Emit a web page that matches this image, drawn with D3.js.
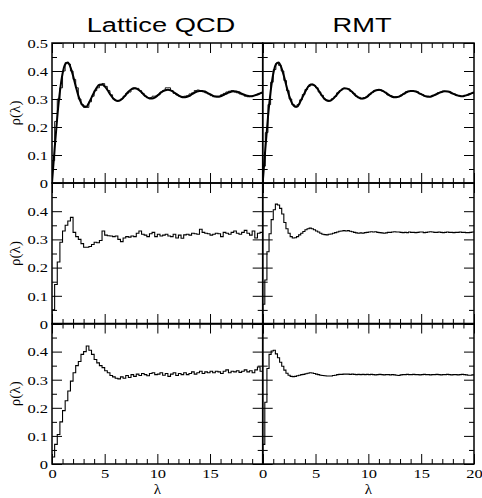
<!DOCTYPE html>
<html><head><meta charset="utf-8">
<script src="https://cdn.jsdelivr.net/npm/d3@7"></script>
<style>body{margin:0;background:#fff} svg{display:block}</style>
</head><body><svg id="c" width="482" height="498"></svg>
<script>
const columnTitles = ["Lattice QCD", "RMT"];
const yAxisLabel = "ρ(λ)";
const xAxisLabel = "λ";
const xMajorTicks = [0, 5, 10, 15, 20];
const xMinorTicks = [1,2,3,4,6,7,8,9,11,12,13,14,16,17,18,19];
const yMajorTicks = [0, 0.1, 0.2, 0.3, 0.4, 0.5];
const yMinorTicks = [0.05, 0.15, 0.25, 0.35, 0.45];

// theory curve (top row), sampled every 0.25 in lambda
const theoryStep = 0.25;
const theoryRho = [0, 0.123, 0.235, 0.326, 0.390, 0.424, 0.430, 0.414, 0.383, 0.346,
  0.312, 0.287, 0.274, 0.272, 0.286, 0.305, 0.324, 0.341, 0.351, 0.352,
  0.345, 0.333, 0.318, 0.305, 0.296, 0.293, 0.296, 0.304, 0.315, 0.326,
  0.334, 0.338, 0.337, 0.332, 0.324, 0.314, 0.307, 0.302, 0.302, 0.305,
  0.312, 0.320, 0.327, 0.331, 0.333, 0.331, 0.326, 0.319, 0.313, 0.308,
  0.306, 0.307, 0.310, 0.316, 0.322, 0.327, 0.329, 0.329, 0.327, 0.322,
  0.317, 0.312, 0.309, 0.308, 0.310, 0.314, 0.318, 0.323, 0.326, 0.328,
  0.327, 0.324, 0.319, 0.315, 0.312, 0.310, 0.310, 0.313, 0.316, 0.320, 0.324];

// histograms, bin width 0.25
const qcdBin = 0.25;
const qcdRho1 = [0.08, 0.22, 0.30, 0.34, 0.40, 0.43, 0.425, 0.40, 0.37, 0.34,
  0.30, 0.28, 0.27, 0.27, 0.29, 0.31, 0.33, 0.34, 0.35, 0.355,
  0.345, 0.33, 0.315, 0.30, 0.295, 0.295, 0.30, 0.31, 0.32, 0.325,
  0.335, 0.34, 0.338, 0.33, 0.32, 0.31, 0.305, 0.305, 0.31, 0.31,
  0.315, 0.325, 0.33, 0.34, 0.34, 0.33, 0.32, 0.315, 0.31, 0.308,
  0.31, 0.312, 0.318, 0.322, 0.33, 0.332, 0.33, 0.326, 0.322, 0.318,
  0.312, 0.308, 0.31, 0.31, 0.315, 0.32, 0.325, 0.328, 0.33, 0.325,
  0.322, 0.318, 0.315, 0.31, 0.308, 0.31, 0.312, 0.315, 0.318, 0.322];
const rmtRho1 = [0.06, 0.18, 0.28, 0.36, 0.405, 0.428, 0.42, 0.40, 0.366, 0.33,
  0.30, 0.28, 0.272, 0.28, 0.297, 0.316, 0.334, 0.345, 0.353, 0.348,
  0.34, 0.325, 0.313, 0.30, 0.296, 0.294, 0.301, 0.309, 0.322, 0.33,
  0.337, 0.337, 0.336, 0.327, 0.32, 0.31, 0.306, 0.301, 0.305, 0.308,
  0.317, 0.323, 0.33, 0.331, 0.333, 0.328, 0.324, 0.315, 0.312, 0.306,
  0.308, 0.308, 0.314, 0.318, 0.326, 0.327, 0.33, 0.327, 0.326, 0.319,
  0.316, 0.31, 0.31, 0.308, 0.313, 0.315, 0.322, 0.324, 0.328, 0.327,
  0.327, 0.321, 0.318, 0.313, 0.312, 0.309, 0.313, 0.314, 0.319, 0.321];
const qcdRho2 = [0.05, 0.14, 0.22, 0.29, 0.33, 0.35, 0.365, 0.378, 0.325, 0.31,
  0.30, 0.285, 0.272, 0.272, 0.275, 0.282, 0.29, 0.288, 0.296, 0.33,
  0.315, 0.313, 0.312, 0.31, 0.312, 0.30, 0.292, 0.305, 0.31, 0.308,
  0.312, 0.31, 0.322, 0.33, 0.318, 0.315, 0.31, 0.32, 0.325, 0.31,
  0.318, 0.312, 0.315, 0.318, 0.312, 0.31, 0.318, 0.305, 0.315, 0.304,
  0.316, 0.318, 0.315, 0.322, 0.32, 0.318, 0.336, 0.325, 0.322, 0.32,
  0.315, 0.318, 0.322, 0.32, 0.31, 0.325, 0.322, 0.318, 0.325, 0.33,
  0.322, 0.318, 0.325, 0.332, 0.322, 0.315, 0.33, 0.305, 0.322, 0.325];
const qcdRho3 = [0.025, 0.07, 0.105, 0.15, 0.19, 0.225, 0.26, 0.295, 0.325, 0.35,
  0.365, 0.39, 0.40, 0.42, 0.405, 0.39, 0.372, 0.36, 0.35, 0.343,
  0.332, 0.325, 0.315, 0.31, 0.305, 0.303, 0.31, 0.305, 0.315, 0.308,
  0.318, 0.312, 0.32, 0.315, 0.322, 0.318, 0.314, 0.322, 0.325, 0.318,
  0.32, 0.325, 0.316, 0.322, 0.312, 0.32, 0.325, 0.315, 0.322, 0.318,
  0.325, 0.318, 0.322, 0.328, 0.32, 0.325, 0.33, 0.322, 0.328, 0.325,
  0.33, 0.325, 0.33, 0.328, 0.322, 0.33, 0.335, 0.325, 0.33, 0.328,
  0.332, 0.326, 0.33, 0.335, 0.328, 0.332, 0.325, 0.335, 0.345, 0.33];

// RMT histograms, bin width 0.2
const rmtBin = 0.2;
const rmtRho2 = [0.07, 0.156, 0.256, 0.32, 0.37, 0.405, 0.425, 0.422, 0.41, 0.39,
  0.36, 0.338, 0.322, 0.31, 0.305, 0.306, 0.31, 0.316, 0.322, 0.328,
  0.334, 0.338, 0.34, 0.338, 0.334, 0.33, 0.326, 0.322, 0.318, 0.317,
  0.316, 0.318, 0.319, 0.322, 0.324, 0.326, 0.329, 0.33, 0.331, 0.33,
  0.331, 0.329, 0.327, 0.325, 0.323, 0.322, 0.323, 0.322, 0.324, 0.325,
  0.326, 0.327, 0.326, 0.327, 0.325, 0.324, 0.323, 0.322, 0.323, 0.325,
  0.325, 0.326, 0.327, 0.326, 0.326, 0.325, 0.324, 0.325, 0.324, 0.326,
  0.325, 0.325, 0.324, 0.325, 0.326, 0.326, 0.324, 0.325, 0.326, 0.327,
  0.326, 0.325, 0.325, 0.326, 0.325, 0.324, 0.325, 0.326, 0.325, 0.325,
  0.324, 0.325, 0.325, 0.326, 0.325, 0.325, 0.324, 0.324, 0.325, 0.326];
const rmtRho3 = [0.07, 0.22, 0.34, 0.39, 0.402, 0.405, 0.392, 0.378, 0.362, 0.348,
  0.334, 0.323, 0.316, 0.312, 0.311, 0.312, 0.314, 0.316, 0.318, 0.319,
  0.321, 0.323, 0.325, 0.324, 0.322, 0.32, 0.318, 0.316, 0.315, 0.314,
  0.313, 0.313, 0.313, 0.315, 0.316, 0.318, 0.319, 0.319, 0.32, 0.32,
  0.32, 0.319, 0.32, 0.319, 0.318, 0.319, 0.318, 0.319, 0.318, 0.319,
  0.318, 0.319, 0.318, 0.317, 0.318, 0.319, 0.318, 0.317, 0.318, 0.318,
  0.317, 0.318, 0.317, 0.316, 0.315, 0.317, 0.318, 0.318, 0.319, 0.318,
  0.318, 0.319, 0.318, 0.318, 0.317, 0.318, 0.319, 0.318, 0.318, 0.317,
  0.318, 0.318, 0.319, 0.318, 0.317, 0.318, 0.318, 0.319, 0.318, 0.317,
  0.318, 0.318, 0.317, 0.318, 0.319, 0.318, 0.317, 0.316, 0.316, 0.317];

const panels = [
  {row: 0, col: 0, hist: qcdRho1, bin: qcdBin, theory: true},
  {row: 0, col: 1, hist: rmtRho1, bin: qcdBin, theory: true},
  {row: 1, col: 0, hist: qcdRho2, bin: qcdBin},
  {row: 1, col: 1, hist: rmtRho2, bin: rmtBin},
  {row: 2, col: 0, hist: qcdRho3, bin: qcdBin},
  {row: 2, col: 1, hist: rmtRho3, bin: rmtBin}
];

const colX = [[52, 262.7], [262.7, 474]];
const rowY = [[183, 43], [324, 183], [464, 323.5]];
const serif = "Liberation Serif";
const sans = "Liberation Sans";
const sx = 1.22;

const svg = d3.select("#c");

panels.forEach((p, idx) => {
  const x = d3.scaleLinear().domain([0, 20]).range(colX[p.col]);
  const y = d3.scaleLinear().domain([0, 0.5]).range(rowY[p.row]);
  const g = svg.append("g");
  const cid = "clip" + idx;
  svg.append("clipPath").attr("id", cid).append("rect")
    .attr("x", x(0)).attr("y", y(0.5)).attr("width", x(20) - x(0)).attr("height", y(0) - y(0.5));

  // histogram (step line)
  const stepLine = d3.line().x(d => x(d.l)).y(d => y(d.r)).curve(d3.curveStepBefore);
  const hp = p.hist.map((v, i) => ({l: (i + 1) * p.bin, r: v}));
  hp.unshift({l: 0, r: 0});
  g.append("path").attr("clip-path", `url(#${cid})`)
    .attr("d", stepLine(hp))
    .attr("fill", "none").attr("stroke", "#000").attr("stroke-width", p.theory ? 0.9 : 1.1);

  if (p.theory) {
    const tl = d3.line().x((d, i) => x(i * theoryStep)).y(d => y(d)).curve(d3.curveMonotoneX);
    g.append("path").attr("clip-path", `url(#${cid})`)
      .attr("d", tl(theoryRho))
      .attr("fill", "none").attr("stroke", "#000").attr("stroke-width", 2);
  }

  // ticks on four sides, pointing inward
  const addAxis = (axis, tx, ty) => {
    const a = g.append("g").attr("transform", `translate(${tx},${ty})`).call(axis);
    a.select(".domain").remove();
    a.selectAll("line").attr("stroke", "#000").attr("stroke-width", 1);
    return a;
  };
  const nofmt = () => "";
  addAxis(d3.axisBottom(x).tickValues(xMajorTicks).tickSize(-10).tickFormat(nofmt), 0, y(0));
  addAxis(d3.axisBottom(x).tickValues(xMinorTicks).tickSize(-5).tickFormat(nofmt), 0, y(0));
  addAxis(d3.axisTop(x).tickValues(xMajorTicks).tickSize(-10).tickFormat(nofmt), 0, y(0.5));
  addAxis(d3.axisTop(x).tickValues(xMinorTicks).tickSize(-5).tickFormat(nofmt), 0, y(0.5));
  addAxis(d3.axisLeft(y).tickValues(yMajorTicks).tickSize(-10).tickFormat(nofmt), x(0), 0);
  addAxis(d3.axisLeft(y).tickValues(yMinorTicks).tickSize(-5).tickFormat(nofmt), x(0), 0);
  addAxis(d3.axisRight(y).tickValues(yMajorTicks).tickSize(-10).tickFormat(nofmt), x(20), 0);
  addAxis(d3.axisRight(y).tickValues(yMinorTicks).tickSize(-5).tickFormat(nofmt), x(20), 0);

  // frame
  g.append("rect").attr("x", x(0)).attr("y", y(0.5))
    .attr("width", x(20) - x(0)).attr("height", y(0) - y(0.5))
    .attr("fill", "none").attr("stroke", "#000").attr("stroke-width", 1.5);

  // y labels for left column
  if (p.col === 0) {
    const vals = p.row === 0 ? yMajorTicks : yMajorTicks.slice(0, 5);
    const la = addAxis(d3.axisLeft(y).tickValues(vals).tickSize(0).tickPadding(3.3)
      .tickFormat(d => d === 0 ? "0" : d3.format(".1f")(d)), x(0), 0);
    la.attr("font-family", serif);
    la.selectAll("text").attr("font-family", serif).attr("font-size", 13.5)
      .attr("fill", "#000").attr("transform", `scale(${sx},1)`);
    svg.append("text").attr("font-family", serif)
      .attr("transform", `translate(20,${(y(0) + y(0.5)) / 2}) rotate(-90)`)
      .attr("text-anchor", "middle").attr("font-size", 15)
      .text(yAxisLabel);
  }
  // x labels for bottom row
  if (p.row === 2) {
    const vals = p.col === 0 ? xMajorTicks.slice(0, 4) : xMajorTicks;
    const la = addAxis(d3.axisBottom(x).tickValues(vals).tickSize(0).tickPadding(4)
      .tickFormat(d3.format("d")), 0, y(0));
    la.attr("font-family", serif);
    la.selectAll("text").attr("font-family", serif).attr("font-size", 13.5)
      .attr("fill", "#000").attr("transform", `scale(${sx},1)`);
    svg.append("text").attr("font-family", serif).attr("x", (x(0) + x(20)) / 2).attr("y", 494)
      .attr("text-anchor", "middle").attr("font-size", 15)
      .text(xAxisLabel);
  }
  if (p.row === 0) {
    svg.append("text").attr("font-family", sans).attr("x", 0).attr("y", 0)
      .attr("transform", `translate(${p.col === 0 ? 161 : 362},32) scale(1.3,1)`)
      .attr("text-anchor", "middle")
      .attr("font-size", 21).text(columnTitles[p.col]);
  }
});
</script></body></html>
